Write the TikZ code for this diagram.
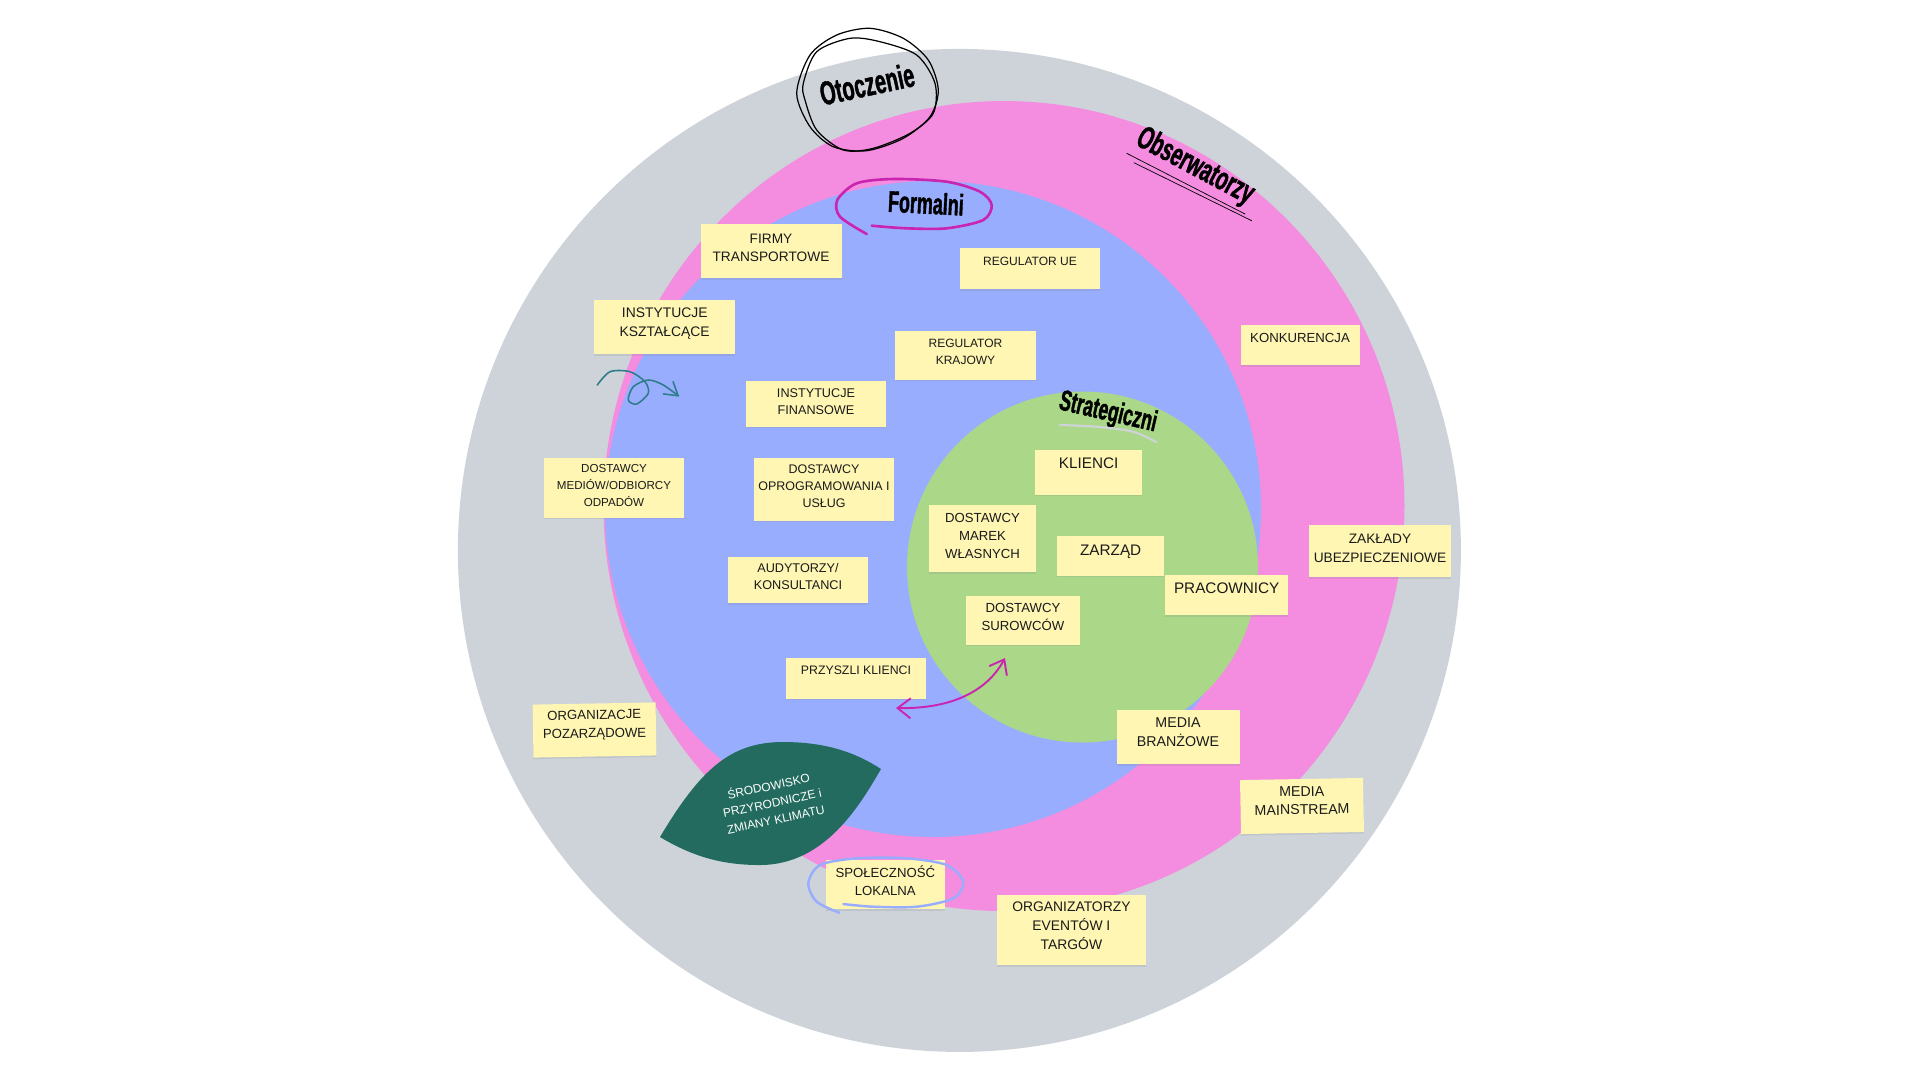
\documentclass[tikz,border=0pt]{standalone}
\usepackage{fontspec}
\setmainfont{Liberation Sans}
\newfontfamily\condfont[FakeStretch=0.6, FakeBold=1.2]{Liberation Sans}
\usetikzlibrary{arrows.meta, shadows}
\definecolor{cgrey}{HTML}{CED3DA}
\definecolor{cpink}{HTML}{F48DE0}
\definecolor{cblue}{HTML}{99ADFF}
\definecolor{cgreen}{HTML}{ABD888}
\definecolor{cyellow}{HTML}{FFF6B3}
\definecolor{cleaf}{HTML}{236B5E}
\definecolor{cmagenta}{HTML}{C925B0}
\definecolor{cink}{HTML}{1A1A1A}
\definecolor{cswirl}{HTML}{2F7C8A}
\tikzset{
  every picture/.style={x=0.1mm, y=-0.1mm},
  sticky/.style={fill=cyellow, text=cink, align=center, inner sep=0pt, minimum width=#1,
    drop shadow={shadow xshift=0pt, shadow yshift=-0.15mm, opacity=.18}},
  fs/.style={font=\fontsize{#1}{5.2}\selectfont},
  fsl/.style={font=\fontsize{#1}{5.4}\selectfont},
  fsn/.style={font=\fontsize{#1}{4.85}\selectfont},
  title/.style={font=\condfont\bfseries\fontsize{#1}{#1}\selectfont, text=black, inner sep=0pt},
  scribble/.style={line width=#1, line cap=round, line join=round},
}

\begin{document}
\begin{tikzpicture}
  \useasboundingbox (0,0) rectangle (1920,1080);
  \fill[white] (0,0) rectangle (1920,1080);
  % ---------- rings
  \fill[cgrey] (959.4,550.4) circle[radius=501.5];
  \fill[cpink] (1004,506) ellipse[x radius=400.5, y radius=405];
  \fill[cblue] (933,509) circle[radius=328];
  \fill[cgreen] (1082.5,567) circle[radius=175.5];
  % ---------- leaf
  \fill[cleaf] (660,837) .. controls (700,770) and (730,742) .. (783,742)
    .. controls (825,742) and (855,752) .. (881,769)
    .. controls (860,805) and (825,865) .. (760,865)
    .. controls (725,865) and (695,858) .. (660,837) -- cycle;
  \node[fsn=3.4, text=white, align=center, rotate=12, inner sep=0pt] (srodowisko) at (772,802)
    {ŚRODOWISKO\\PRZYRODNICZE i\\ZMIANY KLIMATU};
  % ---------- titles
  \node[title=9.5, rotate=12] (otoczenie) at (867,84) {Otoczenie};
  \node[title=9.2, rotate=-28] (obserwatorzy) at (1195,167) {Obserwatorzy};
  \node[title=8.5, rotate=-3] (formalni) at (926,203) {Formalni};
  \node[title=8.3, rotate=-13] (strategiczni) at (1108,413) {Strategiczni};
  % ---------- scribbles
  \draw[scribble=0.35pt, black] plot[smooth cycle] coordinates {(796.7,93.3) (810,55) (836.7,35) (870,28.3) (903.3,38.3) (928.3,60) (938.3,90) (930,116.7) (903.3,138.3) (866.7,150.7) (833.3,146.7) (810,126.7)};
  \draw[scribble=0.35pt, black] plot[smooth cycle] coordinates {(803.3,83.3) (816.7,51.7) (850,38.3) (880,41.7) (916.7,55) (935,83.3) (933.3,113.3) (910,133.3) (873.3,148.3) (843.3,150) (816.7,130) (805,100)};
  \draw[scribble=0.2pt, black] (1126.7,153.3) -- (1245,214);
  \draw[scribble=0.2pt, black] (1134,162.7) -- (1251.7,220.7);
  \draw[scribble=0.75pt, cmagenta] plot[smooth] coordinates {(866.7,234) (840,216.7) (837.3,200) (856.7,183.3) (893.3,179) (946.7,181.7) (980,191.7) (991.7,205) (983.3,220) (946.7,228.3) (906.7,228.3) (871.7,225.7)};
  \draw[scribble=0.6pt, cgrey] plot[smooth] coordinates {(1060,425) (1096.7,426.7) (1133,431.7) (1156.7,442.3)};
  \draw[scribble=0.45pt, cswirl, -{Straight Barb[length=1.3mm, width=1.6mm]}] plot[smooth] coordinates {(597.3,385) (610,371.7) (630,371.7) (645,381.7) (648.3,393.3) (636.7,404) (628.3,400) (633.3,386.7) (648.3,380) (663.3,385) (679.3,396.7)};
  % ---------- stickies
  \node[sticky=14.1mm, minimum height=5.4mm, fs=3.9, text depth=.7mm] (firmy) at (771,251) {FIRMY\\TRANSPORTOWE};
  \node[sticky=14mm, minimum height=4.1mm, fs=3.42, text depth=1.4mm] (regue) at (1030,268.5) {REGULATOR UE};
  \node[sticky=14.1mm, minimum height=5.4mm, fs=3.95, text depth=1mm] (ksztalcace) at (664.7,327) {INSTYTUCJE\\KSZTAŁCĄCE};
  \node[sticky=14.1mm, minimum height=4.9mm, fsn=3.42, text depth=.6mm] (regkraj) at (965.5,355) {REGULATOR\\KRAJOWY};
  \node[sticky=11.9mm, minimum height=4mm, fs=3.75, text depth=1.4mm] (konkurencja) at (1300,345) {KONKURENCJA};
  \node[sticky=14mm, minimum height=4.6mm, fsn=3.6, text depth=.4mm] (finansowe) at (816,403.7) {INSTYTUCJE\\FINANSOWE};
  \node[sticky=10.7mm, minimum height=4.5mm, fs=4.35, text depth=1.7mm] (klienci) at (1088.7,472) {KLIENCI};
  \node[sticky=14mm, minimum height=6mm, fsn=3.3, text depth=.5mm] (media) at (614,487.7) {DOSTAWCY\\MEDIÓW/ODBIORCY\\ODPADÓW};
  \node[sticky=14mm, minimum height=6.3mm, fsn=3.55, text depth=.5mm] (oprog) at (824,489) {DOSTAWCY\\OPROGRAMOWANIA I\\USŁUG};
  \node[sticky=10.7mm, minimum height=6.7mm, fs=3.75, text depth=.6mm] (marek) at (982.5,538.7) {DOSTAWCY\\MAREK\\WŁASNYCH};
  \node[sticky=10.7mm, minimum height=4mm, fs=4.35, text depth=1.1mm] (zarzad) at (1110.7,555.7) {ZARZĄD};
  \node[sticky=14.2mm, minimum height=5.2mm, fsl=3.9, text depth=.5mm] (zaklady) at (1380,551) {ZAKŁADY\\UBEZPIECZENIOWE};
  \node[sticky=14mm, minimum height=4.6mm, fsn=3.6, text depth=.7mm] (audytorzy) at (798,580) {AUDYTORZY/\\KONSULTANCI};
  \node[sticky=12.3mm, minimum height=4mm, fs=4.35, text depth=1.4mm] (pracownicy) at (1226.7,595) {PRACOWNICY};
  \node[sticky=11.4mm, minimum height=4.9mm, fs=3.75, text depth=.6mm] (surowcow) at (1023,620) {DOSTAWCY\\SUROWCÓW};
  \node[sticky=14mm, minimum height=4.1mm, fs=3.5, text depth=1.6mm] (przyszli) at (856,678.3) {PRZYSZLI KLIENCI};
  \node[sticky=12.3mm, minimum height=5.4mm, fsl=4.05, text depth=1mm] (branzowe) at (1178,737) {MEDIA\\BRANŻOWE};
  \node[sticky=12.3mm, minimum height=5.3mm, fs=3.75, text depth=1.2mm, rotate=1] (pozarzadowe) at (594.5,730) {ORGANIZACJE\\POZARZĄDOWE};
  \node[sticky=12.3mm, minimum height=5.4mm, fs=4.05, text depth=1.1mm, rotate=1] (mainstream) at (1302,806) {MEDIA\\MAINSTREAM};
  \node[sticky=11.9mm, minimum height=4.9mm, fs=3.75, text depth=.8mm] (spolecznosc) at (885.3,884.7) {SPOŁECZNOŚĆ\\LOKALNA};
  \node[sticky=14.9mm, minimum height=7mm, fsl=3.95, text depth=.8mm] (eventy) at (1071.4,930) {ORGANIZATORZY\\EVENTÓW I\\TARGÓW};
  % ---------- over the stickies
  \draw[scribble=0.7pt, cblue] plot[smooth] coordinates {(839.3,912.7) (816.7,901.7) (808.3,883.3) (820,865) (856.7,858.3) (906.7,858.3) (946.7,865) (963.3,881.7) (953.3,898.3) (916.7,906.7) (873.3,906.7) (843.3,904)};
  \coordinate (linkA) at (896,708);
  \coordinate (linkB) at (1005,658);
  \draw[scribble=0.55pt, cmagenta, {Straight Barb[length=1.3mm, width=2mm]}-{Straight Barb[length=1.3mm, width=2mm]}] (linkA) .. controls (945,709) and (985,695) .. (linkB);
\end{tikzpicture}
\end{document}
